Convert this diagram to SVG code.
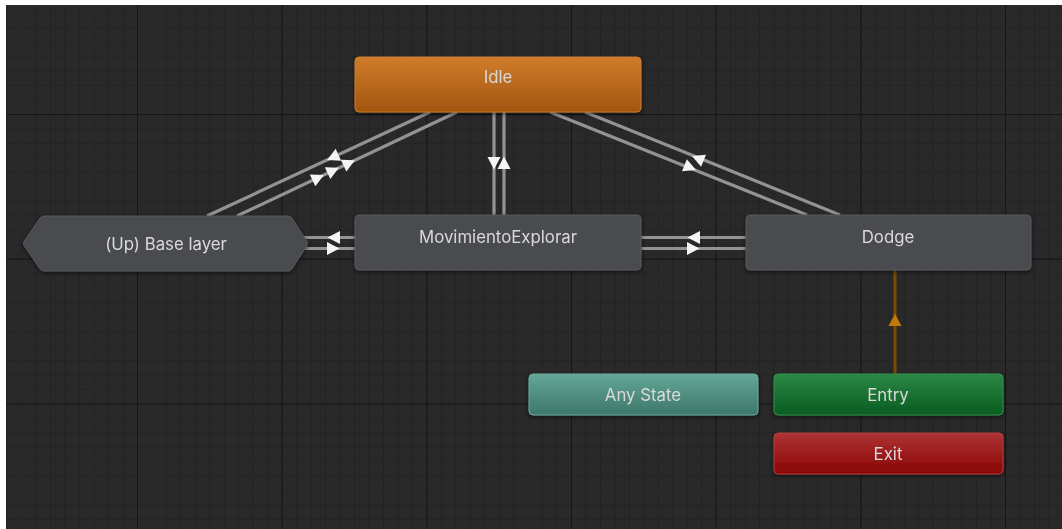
<svg xmlns="http://www.w3.org/2000/svg" width="1062" height="529" viewBox="0 0 1062 529">
  <defs>
    <style>
      .label { font-family: Inter, "Noto Sans", "Liberation Sans", sans-serif; font-size: 16.8px; fill: #d9d9d9; text-anchor: middle; }
      .state { fill: #4a4c50; stroke: #56585c; stroke-width: 1; }
      .link { stroke: #939393; stroke-width: 3.2; fill: none; }
      .arrow { fill: #f4f4f4; }
      .entry-link { stroke: #7a4b00; stroke-width: 3; fill: none; }
    </style>
    <pattern id="minorGrid" x="137" y="114" width="14.467" height="14.467" patternUnits="userSpaceOnUse">
      <rect width="14.467" height="14.467" fill="#292929"/>
      <path d="M0,0 V14.467 M0,0 H14.467" stroke="#1f1f1f" stroke-width="1.2"/>
    </pattern>
    <pattern id="majorGrid" x="137" y="114" width="144.67" height="144.67" patternUnits="userSpaceOnUse">
      <path d="M0,0 V144.67 M0,0 H144.67" stroke="#161616" stroke-width="2"/>
    </pattern>
    <linearGradient id="gIdle" x1="0" y1="0" x2="0" y2="1">
      <stop offset="0" stop-color="#d07c2a"/>
      <stop offset="1" stop-color="#a1560f"/>
    </linearGradient>
    <linearGradient id="gAny" x1="0" y1="0" x2="0" y2="1">
      <stop offset="0" stop-color="#64a797"/>
      <stop offset="1" stop-color="#3d776a"/>
    </linearGradient>
    <linearGradient id="gEntry" x1="0" y1="0" x2="0" y2="1">
      <stop offset="0" stop-color="#2b8745"/>
      <stop offset="1" stop-color="#095c21"/>
    </linearGradient>
    <linearGradient id="gExit" x1="0" y1="0" x2="0" y2="1">
      <stop offset="0" stop-color="#ad3434"/>
      <stop offset="1" stop-color="#8a0404"/>
    </linearGradient>
    <filter id="shadow" x="-10%" y="-30%" width="120%" height="160%">
      <feDropShadow dx="0" dy="1.5" stdDeviation="2" flood-color="#000" flood-opacity="0.55"/>
    </filter>
    <!-- arrowhead pointing along +x, centred on its origin -->
    <path id="arr" d="M6.5,0 L-6,-6.5 L-6,6.5 Z"/>
  </defs>

  <!-- canvas -->
  <rect width="1062" height="529" fill="#ffffff"/>
  <rect x="6" y="5" width="1056" height="524" fill="url(#minorGrid)"/>
  <rect x="6" y="5" width="1056" height="524" fill="url(#majorGrid)"/>

  <!-- transitions -->
  <g id="connectors">
    <!-- Idle <-> (Up) Base layer -->
    <line class="link" x1="207" y1="216" x2="430" y2="112"/>
    <line class="link" x1="237" y1="216" x2="457" y2="112"/>
    <!-- Idle <-> MovimientoExplorar -->
    <line class="link" x1="494" y1="112" x2="494" y2="215"/>
    <line class="link" x1="504" y1="112" x2="504" y2="215"/>
    <!-- Idle <-> Dodge -->
    <line class="link" x1="585" y1="112" x2="840" y2="215"/>
    <line class="link" x1="550" y1="112" x2="807" y2="215"/>
    <!-- (Up) Base layer <-> MovimientoExplorar -->
    <line class="link" x1="296" y1="237.5" x2="355" y2="237.5"/>
    <line class="link" x1="296" y1="248.5" x2="355" y2="248.5"/>
    <!-- MovimientoExplorar <-> Dodge -->
    <line class="link" x1="641" y1="237.5" x2="746" y2="237.5"/>
    <line class="link" x1="641" y1="248.5" x2="746" y2="248.5"/>
    <!-- Entry -> Dodge -->
    <line class="entry-link" x1="895" y1="374" x2="895" y2="270"/>

    <g class="arrow">
      <use href="#arr" transform="translate(333,157.3) rotate(155)"/>
      <use href="#arr" transform="translate(318,177.7) rotate(-25.3)"/>
      <use href="#arr" transform="translate(333,170.6) rotate(-25.3)"/>
      <use href="#arr" transform="translate(349,163) rotate(-25.3)"/>
      <use href="#arr" transform="translate(494,163) rotate(90)"/>
      <use href="#arr" transform="translate(504,163) rotate(-90)"/>
      <use href="#arr" transform="translate(698,158.5) rotate(-158)"/>
      <use href="#arr" transform="translate(690,167.5) rotate(21.8)"/>
      <use href="#arr" transform="translate(334,237.5) rotate(180)"/>
      <use href="#arr" transform="translate(333,248.5)"/>
      <use href="#arr" transform="translate(694,237.5) rotate(180)"/>
      <use href="#arr" transform="translate(693,248.5)"/>
    </g>
    <use href="#arr" fill="#c07908" transform="translate(895,320) rotate(-90)"/>
  </g>

  <!-- states -->
  <g id="node-idle" filter="url(#shadow)">
    <rect x="355" y="57" width="286" height="55" rx="4" fill="url(#gIdle)" stroke="#c97a30" stroke-width="1"/>
    <text class="label" x="498" y="83" fill="#f0e4d8">Idle</text>
  </g>

  <g id="node-base-layer" filter="url(#shadow)">
    <path class="state" d="M24,241.5 Q23,243.5 24,245.5 L40,269 Q41.5,271 44,271 L288,271 Q290.5,271 292,269 L307,245.5 Q308,243.5 307,241.5 L292,218 Q290.5,216 288,216 L44,216 Q41.5,216 40,218 Z"/>
    <text class="label" x="166" y="250">(Up) Base layer</text>
  </g>

  <g id="node-movimiento" filter="url(#shadow)">
    <rect class="state" x="355" y="215" width="286" height="55" rx="4"/>
    <text class="label" x="498" y="243">MovimientoExplorar</text>
  </g>

  <g id="node-dodge" filter="url(#shadow)">
    <rect class="state" x="746" y="215" width="285" height="55" rx="4"/>
    <text class="label" x="888" y="243">Dodge</text>
  </g>

  <g id="node-any-state" filter="url(#shadow)">
    <rect x="529" y="374" width="229" height="41" rx="4" fill="url(#gAny)" stroke="#6aa99a" stroke-width="1"/>
    <text class="label" x="643" y="401">Any State</text>
  </g>

  <g id="node-entry" filter="url(#shadow)">
    <rect x="774" y="374" width="229" height="41" rx="4" fill="url(#gEntry)" stroke="#34904d" stroke-width="1"/>
    <text class="label" x="888" y="401">Entry</text>
  </g>

  <g id="node-exit" filter="url(#shadow)">
    <rect x="774" y="433" width="229" height="41" rx="4" fill="url(#gExit)" stroke="#b43c3c" stroke-width="1"/>
    <text class="label" x="888" y="460">Exit</text>
  </g>
</svg>
